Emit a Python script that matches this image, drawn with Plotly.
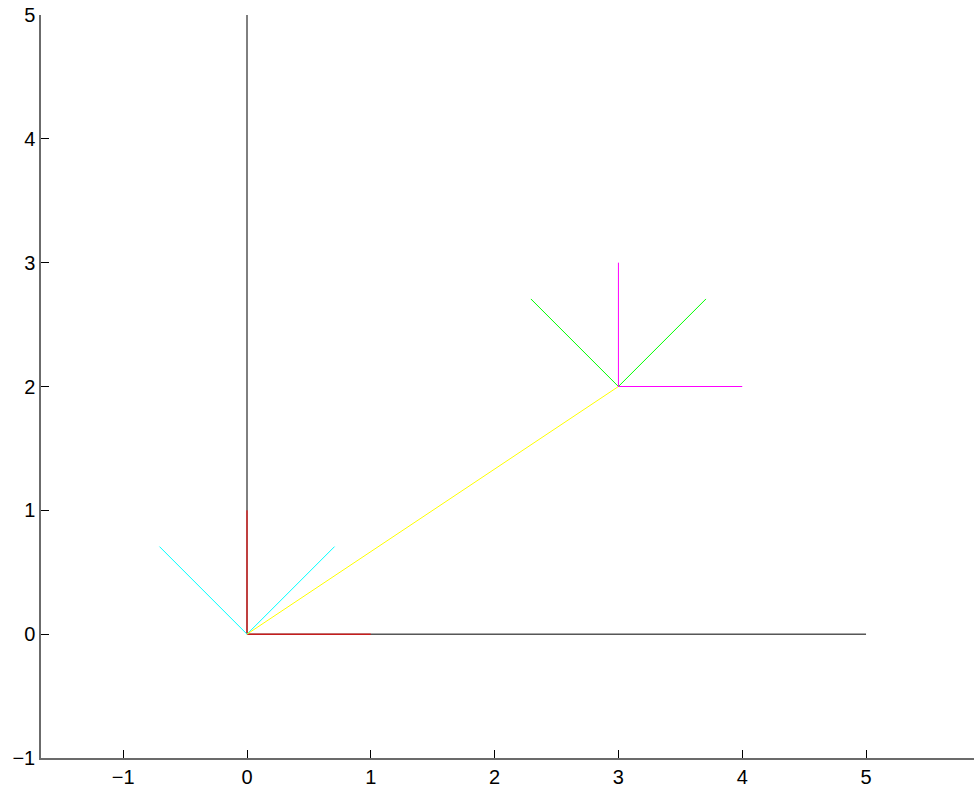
import plotly.graph_objects as go

# Segments per colour group
axes_x = [[0, 5], [0, 0]]
axes_y = [[0, 0], [0, 5]]
frame0_x = [[0, 1], [0, 0]]
frame0_y = [[0, 0], [0, 1]]
rot0_x = [[0, 0.7071], [0, -0.7071]]
rot0_y = [[0, 0.7071], [0, 0.7071]]
trans_x = [[0, 3]]
trans_y = [[0, 2]]
frame1_x = [[3, 4], [3, 3]]
frame1_y = [[2, 2], [2, 3]]
rot1_x = [[3, 3.7071], [3, 2.2929]]
rot1_y = [[2, 2.7071], [2, 2.7071]]

groups = [
    (axes_x, axes_y, "#000000"),
    (frame0_x, frame0_y, "#ff0000"),
    (rot0_x, rot0_y, "#00ffff"),
    (trans_x, trans_y, "#ffff00"),
    (rot1_x, rot1_y, "#00ff00"),
    (frame1_x, frame1_y, "#ff00ff"),
]

xticks = [-1, 0, 1, 2, 3, 4, 5]
yticks = [-1, 0, 1, 2, 3, 4, 5]

fig = go.Figure()
for xs, ys, col in groups:
    for sx, sy in zip(xs, ys):
        fig.add_trace(go.Scatter(x=sx, y=sy, mode="lines",
                                 line=dict(color=col, width=1),
                                 showlegend=False, hoverinfo="skip"))

axis_common = dict(showgrid=False, zeroline=False, showline=True,
                   linecolor="#6b6b6b", linewidth=1.5, ticks="inside",
                   ticklen=8, tickcolor="#000000", tickwidth=1,
                   tickfont=dict(family="Liberation Sans", size=20, color="#000000"),
                   ticklabeloverflow="allow", automargin=False,
                   mirror=False)

fig.update_layout(
    width=974, height=789,
    margin=dict(l=41, r=0, t=15, b=31),
    plot_bgcolor="white", paper_bgcolor="white",
    xaxis=dict(range=[-1.664, 5.872], tickvals=xticks,
               ticktext=[str(v).replace("-", "\u2212") for v in xticks], **axis_common),
    yaxis=dict(range=[-1, 5], tickvals=yticks,
               ticktext=[str(v).replace("-", "\u2212") for v in yticks], **axis_common),
)

fig.write_html("out.html",
               config={"displayModeBar": False},
               post_script="document.body.style.margin='0';document.body.style.overflow='hidden';")
